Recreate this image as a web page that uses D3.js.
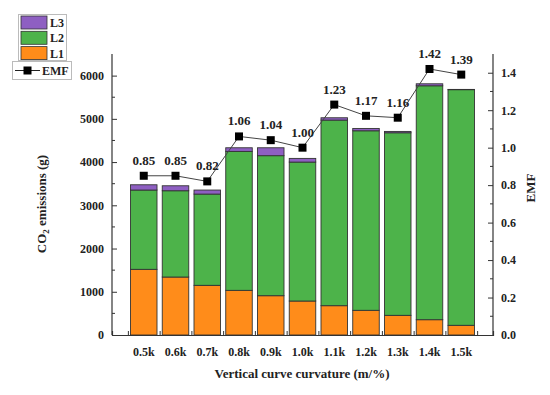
<!DOCTYPE html>
<html>
<head>
<meta charset="utf-8">
<script src="https://cdn.jsdelivr.net/npm/d3@7"></script>
<style>
  body { margin: 0; background: #fff; }
  text { font-family: "Liberation Serif", "Times New Roman", serif; font-weight: bold; }
</style>
</head>
<body>
<svg id="chart" width="550" height="395"></svg>
<script>
// data
var categories = ["0.5k", "0.6k", "0.7k", "0.8k", "0.9k", "1.0k", "1.1k", "1.2k", "1.3k", "1.4k", "1.5k"];
var L1 = [1519, 1341, 1149, 1033, 909, 786, 678, 571, 455, 354, 224];
var L2 = [1834, 1996, 2111, 3214, 3239, 3214, 4293, 4153, 4223, 5411, 5451];
var L3 = [122, 115, 93, 84, 183, 85, 54, 54, 31, 46, 6];
var EMF = [0.85, 0.85, 0.82, 1.06, 1.04, 1.00, 1.23, 1.17, 1.16, 1.42, 1.39];
var leftTicks = [0, 1000, 2000, 3000, 4000, 5000, 6000];
var rightTicks = [0, 0.2, 0.4, 0.6, 0.8, 1.0, 1.2, 1.4];

var colors = { L1: "#ff8c1a", L2: "#4db34a", L3: "#8e5fc2" };

var svg = d3.select("#chart"),
    margin = {top: 54, right: 57, bottom: 60, left: 112},
    width = 550 - margin.left - margin.right,
    height = 395 - margin.top - margin.bottom,
    g = svg.append("g").attr("transform", "translate(" + margin.left + "," + margin.top + ")");

// x is a linear index scale, categories at 1..11
var x = d3.scaleLinear().domain([0, categories.length + 1]).range([0, width]);
var y = d3.scaleLinear().domain([0, 6500]).range([height, 0]);
var y2 = d3.scaleLinear().domain([0, 1.5]).range([height, 0]);
var step = x(1) - x(0);
var bw = step * 0.835;

// stack the three levels
var rows = categories.map(function(c, i) { return {cat: c, i: i + 1, L1: L1[i], L2: L2[i], L3: L3[i]}; });
var stack = d3.stack().keys(["L1", "L2", "L3"])(rows);

g.selectAll("g.layer")
    .data(stack)
    .enter().append("g")
    .attr("class", "layer")
    .attr("fill", function(d) { return colors[d.key]; })
    .selectAll("rect")
    .data(function(d) { return d; })
    .enter().append("rect")
    .attr("x", function(d) { return x(d.data.i) - bw / 2; })
    .attr("y", function(d) { return y(d[1]); })
    .attr("width", bw)
    .attr("height", function(d) { return y(d[0]) - y(d[1]); })
    .attr("stroke", "#333")
    .attr("stroke-width", 0.9);

// axes
var leftAxis = d3.axisLeft(y).tickValues(leftTicks).tickSize(-5).tickPadding(8).tickFormat(d3.format("d"));
var yl = g.append("g").call(leftAxis);
yl.append("g").selectAll("line")
    .data(d3.range(500, 6500, 1000))
    .enter().append("line")
    .attr("x1", 0).attr("x2", 3)
    .attr("y1", function(d) { return y(d); }).attr("y2", function(d) { return y(d); })
    .attr("stroke", "#333");

var rightAxis = d3.axisRight(y2).tickValues(rightTicks).tickSize(-5).tickPadding(8).tickFormat(d3.format(".1f"));
var yr = g.append("g").attr("transform", "translate(" + width + ",0)").call(rightAxis);
yr.append("g").selectAll("line")
    .data(d3.range(0.1, 1.5, 0.2))
    .enter().append("line")
    .attr("x1", 0).attr("x2", -3)
    .attr("y1", function(d) { return y2(d); }).attr("y2", function(d) { return y2(d); })
    .attr("stroke", "#333");

var bottomAxis = d3.axisBottom(x).tickValues(d3.range(0.5, 12, 1)).tickSize(-4).tickFormat("");
var xb = g.append("g").attr("transform", "translate(0," + height + ")").call(bottomAxis);
xb.selectAll(".tick text").remove();
xb.selectAll("text.cat")
    .data(categories)
    .enter().append("text")
    .attr("class", "cat")
    .attr("x", function(d, i) { return x(i + 1); })
    .attr("y", 21)
    .attr("text-anchor", "middle")
    .attr("font-size", "12px")
    .attr("fill", "#222")
    .text(function(d) { return d; });

[yl, yr, xb].forEach(function(a) {
  a.select(".domain").attr("stroke", "#333").attr("stroke-width", 1.2);
  a.selectAll(".tick line").attr("stroke", "#333");
  a.selectAll(".tick text").attr("font-size", "12px").attr("fill", "#222");
});
yl.select(".domain").attr("d", "M0," + height + "V0");
yr.select(".domain").attr("d", "M0," + height + "V0");

// EMF line
var line = d3.line()
    .x(function(d, i) { return x(i + 1); })
    .y(function(d) { return y2(d); });

g.append("path")
    .datum(EMF)
    .attr("fill", "none")
    .attr("stroke", "#444")
    .attr("stroke-width", 1)
    .attr("d", line);

g.selectAll("rect.pt")
    .data(EMF)
    .enter().append("rect")
    .attr("class", "pt")
    .attr("x", function(d, i) { return x(i + 1) - 4; })
    .attr("y", function(d) { return y2(d) - 4; })
    .attr("width", 8).attr("height", 8)
    .attr("fill", "#000");

g.selectAll("text.emf")
    .data(EMF)
    .enter().append("text")
    .attr("class", "emf")
    .attr("x", function(d, i) { return x(i + 1); })
    .attr("y", function(d) { return y2(d) - 11; })
    .attr("text-anchor", "middle")
    .attr("font-size", "13px")
    .attr("fill", "#222")
    .text(function(d) { return d3.format(".2f")(d); });

// axis titles
svg.append("text")
    .attr("transform", "translate(46,204) rotate(-90)")
    .attr("text-anchor", "middle")
    .attr("font-size", "13px")
    .attr("fill", "#222")
    .html('CO<tspan font-size="9px" dy="3">2</tspan><tspan dy="-3"> emissions (g)</tspan>');

svg.append("text")
    .attr("transform", "translate(535,188) rotate(-90)")
    .attr("text-anchor", "middle")
    .attr("font-size", "13px")
    .attr("fill", "#222")
    .text("EMF");

svg.append("text")
    .attr("x", 302)
    .attr("y", 378)
    .attr("text-anchor", "middle")
    .attr("font-size", "13px")
    .attr("fill", "#222")
    .text("Vertical curve curvature (m/%)");

// legend
var leg = svg.append("g");
leg.append("rect").attr("x", 18.5).attr("y", 14.5).attr("width", 48).attr("height", 46)
    .attr("fill", "#fff").attr("stroke", "#bbb");
var legItems = ["L3", "L2", "L1"];
leg.selectAll("rect.sw")
    .data(legItems)
    .enter().append("rect")
    .attr("class", "sw")
    .attr("x", 21).attr("y", function(d, i) { return 16 + i * 15.3; })
    .attr("width", 26).attr("height", 13)
    .attr("fill", function(d) { return colors[d]; })
    .attr("stroke", "#333").attr("stroke-width", 0.8);
leg.selectAll("text.lt")
    .data(legItems)
    .enter().append("text")
    .attr("class", "lt")
    .attr("x", 50).attr("y", function(d, i) { return 27 + i * 15.3; })
    .attr("font-size", "12px")
    .attr("fill", "#222")
    .text(function(d) { return d; });

leg.append("rect").attr("x", 12.5).attr("y", 61.5).attr("width", 59).attr("height", 18)
    .attr("fill", "#fff").attr("stroke", "#bbb");
leg.append("line").attr("x1", 15).attr("x2", 40).attr("y1", 70.5).attr("y2", 70.5)
    .attr("stroke", "#222");
leg.append("rect").attr("x", 23.5).attr("y", 66.5).attr("width", 8).attr("height", 8).attr("fill", "#000");
leg.append("text").attr("x", 42).attr("y", 75).attr("font-size", "12px").attr("fill", "#222").text("EMF");
</script>
</body>
</html>
